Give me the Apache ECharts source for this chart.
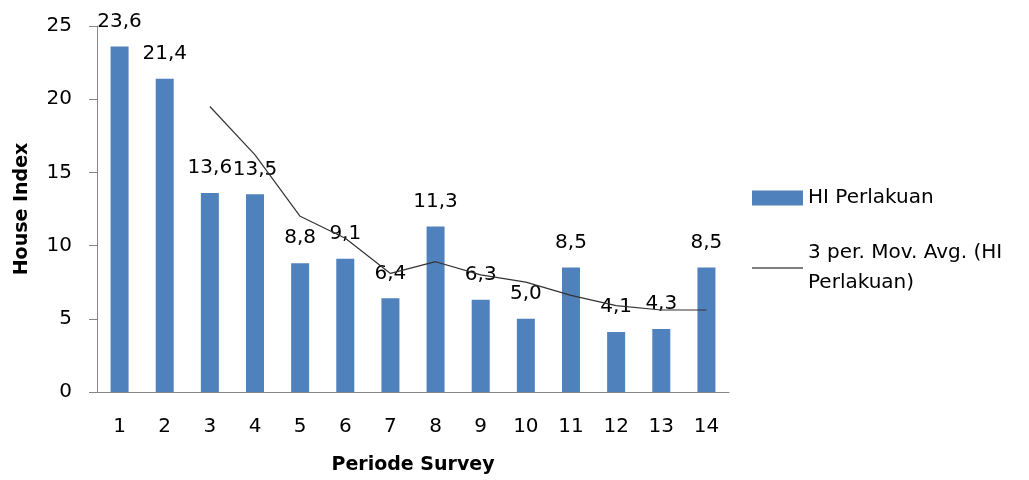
<!DOCTYPE html>
<html>
<head>
<meta charset="utf-8">
<script src="https://cdn.jsdelivr.net/npm/echarts@6/dist/echarts.min.js"></script>
<style>
  html, body { margin: 0; padding: 0; background: #fff; }
  #chart { width: 1029px; height: 480px; }
</style>
</head>
<body>
<div id="chart"></div>
<script>
(function(){
    // periode survey 1..14
    var periods = ['1','2','3','4','5','6','7','8','9','10','11','12','13','14'];
    // HI Perlakuan (bar values)
    var hiValues = [23.6, 21.4, 13.6, 13.5, 8.8, 9.1, 6.4, 11.3, 6.3, 5.0, 8.5, 4.1, 4.3, 8.5];
    // 3 per. Mov. Avg. trendline
    var movAvg = [null, null, 19.5, 16.2, 12.0, 10.5, 8.1, 8.9, 8.0, 7.5, 6.6, 5.9, 5.6, 5.6];
    var yTicks = [0, 5, 10, 15, 20, 25];

    var font = 'DejaVu Sans';
    var chart = echarts.init(document.getElementById('chart'));

    chart.setOption({
        animation: false,
        textStyle: { fontFamily: font },
        grid: { left: 97, right: 300, top: 26, bottom: 88 },
        legend: [
            {
                left: 752, top: 188, padding: 0,
                itemWidth: 51, itemHeight: 15,
                data: [{ name: 'HI Perlakuan', icon: 'rect' }],
                textStyle: { fontSize: 20, color: '#000', fontFamily: font }
            },
            {
                left: 752, top: 223, padding: 0,
                itemWidth: 51, itemHeight: 1,
                data: [{ name: '3 per. Mov. Avg. (HI Perlakuan)', icon: 'rect' }],
                itemStyle: { color: '#000' },
                formatter: function () { return '3 per. Mov. Avg. (HI\nPerlakuan)'; },
                textStyle: {
                    fontSize: 20, color: '#000', fontFamily: font,
                    lineHeight: 30, padding: [30, 0, 0, 0]
                }
            }
        ],
        xAxis: {
            type: 'category',
            data: periods,
            name: 'Periode Survey',
            nameLocation: 'middle',
            nameGap: 64,
            nameTextStyle: { fontSize: 19, fontWeight: 'bold', color: '#000', fontFamily: font },
            axisLine: { lineStyle: { color: '#868686', width: 1 } },
            axisTick: { show: false },
            axisLabel: { fontSize: 20, color: '#000', margin: 25, fontFamily: font }
        },
        yAxis: {
            type: 'value',
            min: yTicks[0],
            max: yTicks[yTicks.length - 1],
            interval: 5,
            name: 'House Index',
            nameLocation: 'middle',
            nameGap: 65,
            nameTextStyle: { fontSize: 19, fontWeight: 'bold', color: '#000', fontFamily: font },
            axisLine: { show: true, lineStyle: { color: '#868686', width: 1 } },
            axisTick: { show: true, length: 8, lineStyle: { color: '#868686' } },
            axisLabel: { fontSize: 20, color: '#000', margin: 25, fontFamily: font },
            splitLine: { show: false }
        },
        series: [
            {
                name: 'HI Perlakuan',
                type: 'bar',
                data: hiValues,
                barWidth: 18,
                itemStyle: { color: '#4F81BD' },
                label: {
                    show: true,
                    position: 'top',
                    distance: 15,
                    fontSize: 20,
                    color: '#000',
                    fontFamily: font,
                    formatter: function (p) { return p.value.toFixed(1).replace('.', ','); }
                }
            },
            {
                name: '3 per. Mov. Avg. (HI Perlakuan)',
                type: 'line',
                data: movAvg,
                symbol: 'none',
                connectNulls: false,
                lineStyle: { color: '#333333', width: 1.2 },
                itemStyle: { color: '#333333' },
                z: 3
            }
        ]
    });
})();
</script>
</body>
</html>
